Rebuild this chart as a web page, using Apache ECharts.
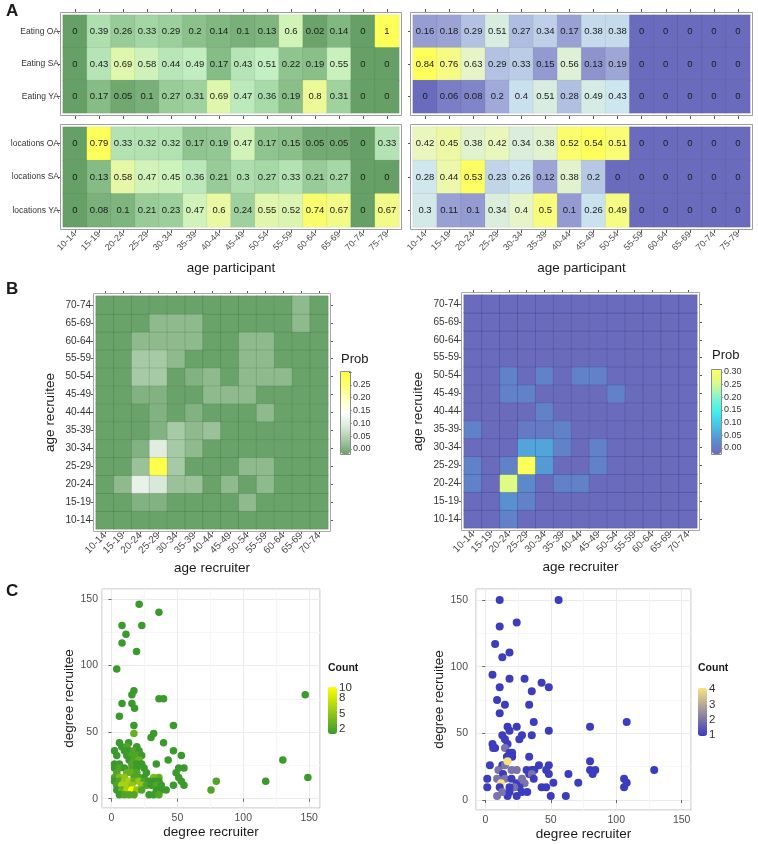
<!DOCTYPE html>
<html>
<head>
<meta charset="utf-8">
<script src="https://cdn.jsdelivr.net/npm/echarts@6/dist/echarts.min.js"></script>
<style>
  html, body { margin: 0; padding: 0; background: #fff; }
  #main { width: 758px; height: 844px; }
</style>
</head>
<body>
<div id="main"></div>
<script>
// ---- data ----
var ageParticipant = ['10-14', '15-19', '20-24', '25-29', '30-34', '35-39', '40-44', '45-49', '50-54', '55-59', '60-64', '65-69', '70-74', '75-79']
var ageRecruit = ['10-14', '15-19', '20-24', '25-29', '30-34', '35-39', '40-44', '45-49', '50-54', '55-59', '60-64', '65-69', '70-74']
var eatingRows = ['Eating OA', 'Eating SA', 'Eating YA']
var locationRows = ['locations OA', 'locations SA', 'locations YA']

// panel A, green (left)
var eatGreenOA = [0, 0.39, 0.26, 0.33, 0.29, 0.2, 0.14, 0.1, 0.13, 0.6, 0.02, 0.14, 0, 1]
var eatGreenSA = [0, 0.43, 0.69, 0.58, 0.44, 0.49, 0.17, 0.43, 0.51, 0.22, 0.19, 0.55, 0, 0]
var eatGreenYA = [0, 0.17, 0.05, 0.1, 0.27, 0.31, 0.69, 0.47, 0.36, 0.19, 0.8, 0.31, 0, 0]
var locGreenOA = [0, 0.79, 0.33, 0.32, 0.32, 0.17, 0.19, 0.47, 0.17, 0.15, 0.05, 0.05, 0, 0.33]
var locGreenSA = [0, 0.13, 0.58, 0.47, 0.45, 0.36, 0.21, 0.3, 0.27, 0.33, 0.21, 0.27, 0, 0]
var locGreenYA = [0, 0.08, 0.1, 0.21, 0.23, 0.47, 0.6, 0.24, 0.55, 0.52, 0.74, 0.67, 0, 0.67]
// panel A, blue (right)
var eatBlueOA = [0.16, 0.18, 0.29, 0.51, 0.27, 0.34, 0.17, 0.38, 0.38, 0, 0, 0, 0, 0]
var eatBlueSA = [0.84, 0.76, 0.63, 0.29, 0.33, 0.15, 0.56, 0.13, 0.19, 0, 0, 0, 0, 0]
var eatBlueYA = [0, 0.06, 0.08, 0.2, 0.4, 0.51, 0.28, 0.49, 0.43, 0, 0, 0, 0, 0]
var locBlueOA = [0.42, 0.45, 0.38, 0.42, 0.34, 0.38, 0.52, 0.54, 0.51, 0, 0, 0, 0, 0]
var locBlueSA = [0.28, 0.44, 0.53, 0.23, 0.26, 0.12, 0.38, 0.2, 0, 0, 0, 0, 0, 0]
var locBlueYA = [0.3, 0.11, 0.1, 0.34, 0.4, 0.5, 0.1, 0.26, 0.49, 0, 0, 0, 0, 0]

// panel B, rows from recruitee 10-14 (bottom) to 70-74 (top), columns = recruiter age
var probGreen = [
  [0, 0, 0, 0, 0, 0, 0, 0, 0, 0, 0, 0, 0],
  [0, 0, 0.02, 0.02, 0, 0, 0, 0, 0.03, 0, 0, 0, 0],
  [0, 0.03, 0.12, 0.1, 0.04, 0.04, 0, 0.03, 0, 0.03, 0, 0, 0],
  [0, 0, 0.04, 0.29, 0.05, 0, 0, 0, 0.03, 0.03, 0, 0, 0],
  [0, 0, 0.02, 0.11, 0.05, 0.03, 0, 0, 0, 0, 0, 0, 0],
  [0, 0, 0, 0.02, 0.05, 0.03, 0.04, 0, 0, 0, 0, 0, 0],
  [0, 0, 0, 0.02, 0, 0.02, 0, 0, 0, 0.03, 0, 0, 0],
  [0, 0, 0.02, 0.02, 0, 0, 0.03, 0.03, 0.03, 0, 0, 0, 0],
  [0, 0, 0.05, 0.05, 0, 0.02, 0.03, 0, 0.03, 0.03, 0.03, 0, 0],
  [0, 0, 0.05, 0.05, 0.03, 0, 0, 0, 0.03, 0.03, 0, 0, 0],
  [0, 0, 0.03, 0.03, 0.03, 0.03, 0, 0, 0.03, 0.03, 0, 0, 0],
  [0, 0, 0, 0.03, 0.03, 0.03, 0, 0, 0, 0, 0, 0.03, 0],
  [0, 0, 0, 0, 0, 0, 0, 0, 0, 0, 0, 0.03, 0]
]
var probBlue = [
  [0, 0, 0.03, 0, 0, 0, 0, 0, 0, 0, 0, 0, 0],
  [0, 0, 0.05, 0.03, 0, 0, 0, 0, 0, 0, 0, 0, 0],
  [0.03, 0, 0.26, 0.04, 0, 0.03, 0.03, 0, 0, 0, 0, 0, 0],
  [0.03, 0, 0.03, 0.31, 0.06, 0, 0, 0.03, 0, 0, 0, 0, 0],
  [0, 0, 0, 0.07, 0.07, 0.03, 0, 0.03, 0, 0, 0, 0, 0],
  [0.03, 0, 0, 0.02, 0.02, 0.03, 0, 0, 0, 0, 0, 0, 0],
  [0, 0, 0, 0, 0.03, 0, 0, 0, 0, 0, 0, 0, 0],
  [0, 0, 0.03, 0.03, 0, 0, 0, 0, 0.03, 0, 0, 0, 0],
  [0, 0, 0.03, 0, 0.03, 0, 0.03, 0.03, 0, 0, 0, 0, 0],
  [0, 0, 0, 0, 0, 0, 0, 0, 0, 0, 0, 0, 0],
  [0, 0, 0, 0, 0, 0, 0, 0, 0, 0, 0, 0, 0],
  [0, 0, 0, 0, 0, 0, 0, 0, 0, 0, 0, 0, 0],
  [0, 0, 0, 0, 0, 0, 0, 0, 0, 0, 0, 0, 0]
]

// panel C: [degree recruiter, degree recruitee, count]
var degreeGreen = [
  [21, 146, 1], [36, 140, 1], [8, 130, 1], [23, 130, 1], [11, 123.5, 1], [8, 117, 1], [19, 110.5, 1], [4, 97.5, 1],
  [147, 78, 1], [17, 81, 1], [15.5, 78, 1], [36, 75, 1], [39.5, 75, 1], [8, 71.5, 1], [15.5, 71.5, 1], [17.5, 68, 1],
  [6, 62, 1], [17, 55, 1], [47, 55, 1], [17, 49, 3], [32, 49, 1], [30, 46, 1], [39.5, 42, 1], [6, 42, 1], [13, 42, 1],
  [47, 36, 1], [43, 29, 1], [130, 29, 1], [53, 32.5, 1], [34, 26, 1], [49, 19.5, 1], [55, 23, 1], [51, 23, 1],
  [51, 16, 1], [53, 13, 1], [55, 10, 1], [47, 10, 1], [149, 16, 1], [117, 13, 1], [79.5, 13, 2], [75.5, 6.5, 2], [41.5, 6.5, 1],
  [7.8, 39, 1], [11.6, 39, 2], [19.2, 39, 1],
  [2.3, 36, 1], [9.8, 36, 1], [13.4, 36, 1], [17.1, 36, 2], [20.9, 36, 1],
  [4, 32.5, 1], [11.6, 32.5, 1], [15.4, 32.5, 2], [19.2, 32.5, 2], [22.9, 32.5, 1],
  [13.4, 29, 1], [17.1, 29, 2], [20.9, 29, 3],
  [2.3, 26, 1], [6, 26, 1], [15.4, 26, 2], [19.2, 26, 1], [22.9, 26, 1],
  [2.3, 23, 1], [6, 23, 2], [9.8, 23, 1], [15.4, 23, 2], [19.2, 23, 1], [24.7, 23, 1],
  [4, 19.5, 2], [11.6, 19.5, 3], [15.4, 19.5, 3], [19.2, 19.5, 2], [26.5, 19.5, 1],
  [2.3, 16, 2], [6, 16, 4], [9.8, 16, 5], [17.1, 16, 2], [20.9, 16, 2], [24.7, 16, 1], [32, 16, 4], [36, 16, 3],
  [2.3, 13, 1], [6, 13, 2], [9.8, 13, 5], [13.4, 13, 6], [17.1, 13, 3], [20.9, 13, 5], [24.7, 13, 2], [28.5, 13, 1], [32, 13, 1], [36, 13, 1],
  [4, 10, 2], [7.8, 10, 6], [11.6, 10, 6], [15.4, 10, 5], [22.9, 10, 5], [26.5, 10, 2], [30.2, 10, 1], [34, 10, 2], [37.8, 10, 1],
  [4, 6.5, 1], [7.8, 6.5, 3], [11.6, 6.5, 6], [15.4, 6.5, 10], [19.2, 6.5, 5], [22.9, 6.5, 2], [34, 6.5, 1], [37.8, 6.5, 1],
  [6, 3, 1], [9.8, 3, 2], [13.4, 3, 2], [17.1, 3, 2], [28.5, 3, 1], [32, 3, 1], [36, 3, 2]
]
var degreeBlue = [
  [11, 150, 1], [56, 150, 1], [11, 130, 1], [24, 133, 1], [7.5, 117, 1], [13, 107, 1], [18.5, 110.5, 1], [5.5, 94, 1],
  [18.5, 91, 1], [30, 91, 1], [43, 88, 1], [48.5, 84.5, 1], [11, 84.5, 1], [35.5, 81.5, 1], [9, 75, 1], [15, 71.5, 1],
  [33.5, 71.5, 1], [11, 65, 1], [37, 58.5, 1], [108, 58.5, 1], [80, 55, 1], [17, 55, 1], [24, 55, 1], [18.5, 52, 1],
  [48.5, 52, 1], [35.5, 48.5, 1], [13, 48.5, 1], [28, 48.5, 1], [26, 45.5, 1], [15, 45.5, 1], [5.5, 42, 1], [7.5, 39, 1],
  [17, 42, 1], [15, 39, 2], [18.5, 35.5, 1], [20.5, 35.5, 1], [16.5, 32.5, 1], [18.5, 32.5, 1], [20.5, 32.5, 1],
  [33.5, 32.5, 1], [80, 29, 1], [129, 22.5, 1], [3.5, 26, 1], [13, 26, 1], [15, 26, 2], [17, 29, 4], [24, 22.5, 2],
  [41, 26, 1], [48.5, 26, 1], [46.5, 22.5, 1], [48.5, 19.5, 1], [63.5, 19.5, 1], [80, 22.5, 1], [84, 22.5, 1], [82, 19.5, 1],
  [31.5, 22.5, 1], [35.5, 22.5, 1], [37.5, 22.5, 1], [33.5, 19.5, 1], [35.5, 19.5, 2], [37, 16, 1], [106, 16, 1],
  [108, 13, 1], [106, 9.5, 1], [71, 13, 1], [52, 13, 1], [43, 9.5, 1], [46.5, 9.5, 1], [50, 3, 1], [61.5, 3, 1],
  [1.5, 16, 1], [1.5, 9.5, 1], [9, 3, 2], [17, 3, 1], [24, 3, 1],
  [10, 22.5, 2], [20, 22.5, 2], [13.5, 19.5, 1], [9, 16, 2], [15, 16, 2], [20, 16, 1], [12, 12.5, 4], [24, 12.5, 1],
  [28, 16, 2], [30, 12.5, 2], [26, 9.5, 1], [22, 9.5, 2], [18.5, 9.5, 1], [11, 9.5, 1], [13, 6, 2], [18.5, 6, 1],
  [28, 6, 1], [32, 6, 1], [6, 39, 1]
]

// legend tick labels
var probTicksGreen = [0, 0.05, 0.1, 0.15, 0.2, 0.25]
var probTicksBlue = [0, 0.05, 0.1, 0.15, 0.2, 0.25, 0.3]
var countTicksGreen = [2, 5, 8, 10]
var countTicksBlue = [1, 2, 3, 4]

// ---- layout / style ----
var FONT = 'Liberation Sans, Arial, Helvetica, sans-serif'
var G = {
  aLT: { left: 63, top: 15, width: 336, height: 98 },
  aRT: { left: 413, top: 15, width: 337, height: 98 },
  aLB: { left: 63, top: 127, width: 336, height: 100 },
  aRB: { left: 413, top: 127, width: 337, height: 100 },
  bL: { left: 96, top: 296, width: 232, height: 233 },
  bR: { left: 464, top: 295, width: 233, height: 233 },
  cL: { left: 102, top: 589, width: 218, height: 219 },
  cR: { left: 476, top: 589, width: 215, height: 221 },
  lgBL: { left: 349, top: 372, width: 1, height: 77 },
  lgBR: { left: 720, top: 372, width: 1, height: 76 },
  lgCL: { left: 336, top: 688, width: 1, height: 46 },
  lgCR: { left: 706, top: 689, width: 1, height: 46 }
}
var greenA = ['#67a067', '#95c995', '#c3efc3', '#e8f8a6', '#ffff5a']
var blueA = ['#6b6bbd', '#a3acd9', '#cde6f0', '#e6f5c8', '#ffff5c']
var greenB = ['#6aa36a', '#a6c9a6', '#d9e9d9', '#ffffff', '#ffffc0', '#ffff70', '#ffff40']
var blueB = ['#6b6bbd', '#5a90d0', '#45c2e8', '#3ff0f0', '#80f6d0', '#d4fa90', '#ffff5a']

function rowCells (rows) {
  var out = []
  var n = rows.length
  rows.forEach(function (row, r) {
    row.forEach(function (v, c) { out.push([c, n - 1 - r, v]) })
  })
  return out
}
function matrixCells (m) {
  var out = []
  m.forEach(function (row, r) {
    row.forEach(function (v, c) { out.push([c, r, v]) })
  })
  return out
}
function hasTick (list, v) {
  return list.some(function (t) { return Math.abs(t - v) < 1e-6 })
}

function aX (gi, labels, pos) {
  return {
    type: 'category', gridIndex: gi, position: pos, data: ageParticipant, offset: 3,
    axisLine: { show: false },
    axisTick: { show: true, alignWithLabel: true, length: 3, lineStyle: { color: '#555' } },
    axisLabel: { show: labels, rotate: 45, interval: 0, fontSize: 9, color: '#4d4d4d', margin: 3, fontFamily: FONT },
    splitLine: { show: false },
    name: labels ? 'age participant' : '', nameLocation: 'middle', nameGap: 31,
    nameTextStyle: { fontSize: 13.5, color: '#1a1a1a', fontFamily: FONT }
  }
}
function aY (gi, rows, labels) {
  return {
    type: 'category', gridIndex: gi, data: rows.slice().reverse(), offset: 2,
    axisLine: { show: false },
    axisTick: { show: true, alignWithLabel: true, length: 3, lineStyle: { color: '#555' } },
    axisLabel: { show: labels, fontSize: 8.5, color: '#333', margin: 2, fontFamily: FONT },
    splitLine: { show: false }
  }
}
function bX (gi, pos) {
  var main = pos === 'bottom'
  return {
    type: 'category', gridIndex: gi, position: pos, data: ageRecruit, offset: 2,
    axisLine: { show: false },
    axisTick: { show: true, alignWithLabel: true, length: 3, lineStyle: { color: '#555' } },
    axisLabel: { show: main, rotate: 45, interval: 0, fontSize: 10, color: '#4d4d4d', margin: 3, fontFamily: FONT },
    name: main ? 'age recruiter' : '', nameLocation: 'middle', nameGap: 30,
    nameTextStyle: { fontSize: 13.5, color: '#1a1a1a', fontFamily: FONT }
  }
}
function bY (gi, pos) {
  var main = pos === 'left'
  return {
    type: 'category', gridIndex: gi, position: pos, data: ageRecruit, offset: 2,
    axisLine: { show: false },
    axisTick: { show: true, alignWithLabel: true, length: 3, lineStyle: { color: '#555' } },
    axisLabel: { show: main, interval: 0, fontSize: 10, color: '#333', margin: 3, fontFamily: FONT },
    name: main ? 'age recruitee' : '', nameLocation: 'middle', nameGap: 37,
    nameTextStyle: { fontSize: 13.5, color: '#1a1a1a', fontFamily: FONT }
  }
}
function cAxis (gi, min, max, name, gap, margin) {
  return {
    type: 'value', gridIndex: gi, min: min, max: max, splitNumber: 3,
    axisLine: { show: false },
    axisTick: { show: true, length: 3, lineStyle: { color: '#666' } },
    axisLabel: { showMinLabel: false, showMaxLabel: false, fontSize: 10.5, color: '#4d4d4d', margin: margin, fontFamily: FONT },
    splitLine: { show: true, lineStyle: { color: '#ebebeb' } },
    minorTick: { show: false, splitNumber: 2 },
    minorSplitLine: { show: true, lineStyle: { color: '#f6f6f6' } },
    name: name, nameLocation: 'middle', nameGap: gap,
    nameTextStyle: { fontSize: 13.5, color: '#1a1a1a', fontFamily: FONT }
  }
}
function lgX (gi) {
  return { type: 'value', gridIndex: gi, show: false }
}
function lgY (gi, min, max, interval, ticks, fmt, tick, size) {
  return {
    type: 'value', gridIndex: gi, position: 'right', min: min, max: max, interval: interval,
    axisLine: { show: false },
    axisTick: { show: tick, length: 2.5, lineStyle: { color: '#444' } },
    splitLine: { show: false },
    axisLabel: {
      fontSize: size, color: '#333', margin: tick ? 3 : 2, fontFamily: FONT,
      formatter: function (v) { return hasTick(ticks, v) ? fmt(v) : '' }
    }
  }
}
function heat (idx, data, labels, border) {
  return {
    type: 'heatmap', xAxisIndex: idx, yAxisIndex: idx, data: data,
    label: {
      show: labels, fontSize: 9.5, color: '#1a1a1a', fontFamily: FONT,
      formatter: function (p) { return String(p.value[2]) }
    },
    itemStyle: { borderColor: border, borderWidth: 0.6 },
    emphasis: { disabled: true }
  }
}
function frame (g, pad, color) {
  return {
    type: 'rect', silent: true, z: 100,
    shape: { x: g.left - pad, y: g.top - pad, width: g.width + 2 * pad, height: g.height + 2 * pad },
    style: { fill: 'none', stroke: color, lineWidth: 1 }
  }
}
function txt (x, y, text, font) {
  return { type: 'text', x: x, y: y, silent: true, style: { text: text, font: font, fill: '#1a1a1a' } }
}

var grids = [G.aLT, G.aRT, G.aLB, G.aRB, G.bL, G.bR, G.cL, G.cR, G.lgBL, G.lgBR, G.lgCL, G.lgCR].map(function (g, i) {
  var c = { left: g.left, top: g.top, width: g.width, height: g.height, containLabel: false }
  if (i === 6 || i === 7) {
    c.show = true
    c.borderColor = '#bdbdbd'
    c.borderWidth = 1
    c.backgroundColor = '#fff'
  }
  return c
})

var option = {
  animation: false,
  backgroundColor: '#fff',
  textStyle: { fontFamily: FONT },
  grid: grids,
  xAxis: [
    aX(0, false, 'bottom'), aX(1, false, 'bottom'), aX(2, true, 'bottom'), aX(3, true, 'bottom'),
    bX(4, 'bottom'), bX(5, 'bottom'),
    cAxis(6, -7.2, 158.2, 'degree recruiter', 17, 5), cAxis(7, -7.1, 157.1, 'degree recruiter', 17, 5),
    lgX(8), lgX(9), lgX(10), lgX(11),
    aX(0, false, 'top'), aX(1, false, 'top'), bX(4, 'top'), bX(5, 'top')
  ],
  yAxis: [
    aY(0, eatingRows, true), aY(1, eatingRows, false), aY(2, locationRows, true), aY(3, locationRows, false),
    bY(4, 'left'), bY(5, 'left'),
    cAxis(6, -7, 157.5, 'degree recruitee', 23, 4), cAxis(7, -7.5, 158.2, 'degree recruitee', 27, 8),
    lgY(8, 0, 0.3, 0.05, probTicksGreen, function (v) { return v.toFixed(2) }, true, 9),
    lgY(9, 0, 0.3, 0.05, probTicksBlue, function (v) { return v.toFixed(2) }, true, 9),
    lgY(10, 1, 10, 1, countTicksGreen, function (v) { return String(v) }, false, 11.5),
    lgY(11, 1, 4, 1, countTicksBlue, function (v) { return String(v) }, false, 11.5),
    bY(4, 'right'), bY(5, 'right')
  ],
  visualMap: [
    { type: 'continuous', show: false, seriesIndex: 0, min: 0, max: 1, inRange: { color: greenA } },
    { type: 'continuous', show: false, seriesIndex: 1, min: 0, max: 0.84, inRange: { color: blueA } },
    { type: 'continuous', show: false, seriesIndex: 2, min: 0, max: 0.79, inRange: { color: greenA } },
    { type: 'continuous', show: false, seriesIndex: 3, min: 0, max: 0.54, inRange: { color: blueA } },
    { type: 'continuous', show: true, seriesIndex: 4, min: 0, max: 0.3, inRange: { color: greenB },
      left: 341, top: 372, itemWidth: 9, itemHeight: 82, padding: 0, calculable: false, text: null, hoverLink: false },
    { type: 'continuous', show: true, seriesIndex: 5, min: 0, max: 0.3, inRange: { color: blueB },
      left: 712, top: 370, itemWidth: 9, itemHeight: 84, padding: 0, calculable: false, text: null, hoverLink: false },
    { type: 'continuous', show: true, seriesIndex: 6, dimension: 2, min: 1, max: 10, inRange: { color: ['#3a9a2c', '#ffff00'] },
      left: 328, top: 687, itemWidth: 9, itemHeight: 47, padding: 0, calculable: false, text: null, hoverLink: false },
    { type: 'continuous', show: true, seriesIndex: 7, dimension: 2, min: 1, max: 4, inRange: { color: ['#3c3cbe', '#f9e27e'] },
      left: 698, top: 688, itemWidth: 9, itemHeight: 48, padding: 0, calculable: false, text: null, hoverLink: false }
  ],
  series: [
    heat(0, rowCells([eatGreenOA, eatGreenSA, eatGreenYA]), true, 'rgba(0,0,0,0.1)'),
    heat(1, rowCells([eatBlueOA, eatBlueSA, eatBlueYA]), true, 'rgba(0,0,0,0.1)'),
    heat(2, rowCells([locGreenOA, locGreenSA, locGreenYA]), true, 'rgba(0,0,0,0.1)'),
    heat(3, rowCells([locBlueOA, locBlueSA, locBlueYA]), true, 'rgba(0,0,0,0.1)'),
    heat(4, matrixCells(probGreen), false, 'rgba(30,70,30,0.25)'),
    heat(5, matrixCells(probBlue), false, 'rgba(30,30,90,0.3)'),
    { type: 'scatter', xAxisIndex: 6, yAxisIndex: 6, data: degreeGreen, symbolSize: 7.5, itemStyle: { opacity: 1 } },
    { type: 'scatter', xAxisIndex: 7, yAxisIndex: 7, data: degreeBlue, symbolSize: 8, itemStyle: { opacity: 1 } }
  ],
  graphic: [
    frame(G.aLT, 2.5, '#9e9e9e'), frame(G.aRT, 2.5, '#9e9e9e'), frame(G.aLB, 2.5, '#9e9e9e'), frame(G.aRB, 2.5, '#9e9e9e'),
    frame(G.bL, 2.5, '#a8a8a8'), frame(G.bR, 2.5, '#a8a8a8'),
    { type: 'rect', silent: true, z: 100, shape: { x: 340.5, y: 371.5, width: 10, height: 83 }, style: { fill: 'none', stroke: '#8c8c8c', lineWidth: 1 } },
    { type: 'rect', silent: true, z: 100, shape: { x: 711.5, y: 369.5, width: 10, height: 85 }, style: { fill: 'none', stroke: '#8c8c8c', lineWidth: 1 } },
    txt(6, 3, 'A', 'bold 17px ' + FONT),
    txt(6, 281, 'B', 'bold 17px ' + FONT),
    txt(6, 583, 'C', 'bold 17px ' + FONT),
    txt(341, 353, 'Prob', '13px ' + FONT),
    txt(712, 349, 'Prob', '13px ' + FONT),
    txt(328, 663, 'Count', 'bold 10.5px ' + FONT),
    txt(698, 663, 'Count', 'bold 10.5px ' + FONT)
  ]
}

var chart = echarts.init(document.getElementById('main'), null, { renderer: 'canvas' })
chart.setOption(option)
</script>
</body>
</html>
